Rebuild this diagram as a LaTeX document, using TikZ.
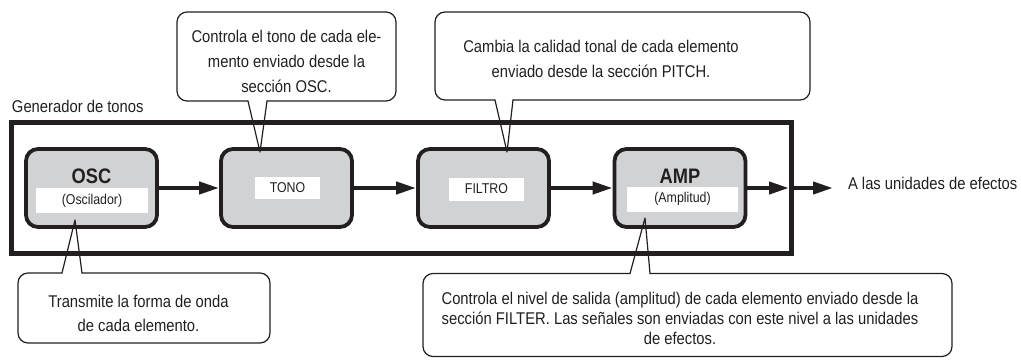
\documentclass[tikz,border=0pt]{standalone}
\usepackage{fontspec}
\setmainfont{Liberation Sans}[FakeStretch=0.87]
\usetikzlibrary{arrows.meta}
\definecolor{ink}{HTML}{231F20}
\definecolor{boxgray}{HTML}{D1D2D4}
\newcommand{\ctxt}[2]{\fontsize{17}{#1}\selectfont\begin{tabular}{@{}c@{}}#2\end{tabular}}
\begin{document}
\begin{tikzpicture}[x=1pt,y=-1pt,
  every node/.style={inner sep=0pt, outer sep=0pt, text=ink},
  block/.style={draw=ink, line width=3.8pt, fill=boxgray, rounded corners=12pt,
    minimum width=131pt, minimum height=78pt, outer sep=1.9pt},
  title/.style={font=\bfseries\fontsize{21}{25}\selectfont},
  sublabel/.style={fill=white, font=\fontsize{14.2}{17}\selectfont},
  flow/.style={draw=ink, line width=4pt, -{Triangle[length=20pt,width=12pt]}},
  frame/.style={draw=ink, line width=5pt, minimum width=780pt, minimum height=131pt},
  cline/.style={draw=ink, line width=1.2pt, line cap=round, line join=round},
  plain/.style={font=\fontsize{17}{20}\selectfont}
]
\useasboundingbox (0,0) rectangle (1021,360);

% tone generator frame
\node[frame] (gen) at (401.5,188) {};
\node[plain, anchor=base west] (genlbl) at (12,112) {Generador de tonos};

% blocks
\node[block] (osc) at (91.5,188) {};
\node[block] (tono) at (286.5,188) {};
\node[block] (filtro) at (483.5,188) {};
\node[block] (amp) at (680,188) {};

\node[title] (osct) at (91.5,176) {OSC};
\node[sublabel, minimum width=112pt, minimum height=25pt] (oscs) at (92,200.5) {(Oscilador)};
\node[sublabel, minimum width=65pt, minimum height=22pt] (tonos) at (287.5,188) {TONO};
\node[sublabel, minimum width=75pt, minimum height=23pt] (filtros) at (486.5,189) {FILTRO};
\node[title] (ampt) at (680,176) {AMP};
\node[sublabel, minimum width=111pt, minimum height=25pt] (amps) at (682.5,199) {(Amplitud)};

% output text
\node[plain, anchor=base west] (out) at (848,189) {A las unidades de efectos};

% flow arrows
\draw[flow] (osc) -- (tono);
\draw[flow] (tono) -- (filtro);
\draw[flow] (filtro) -- (amp);
\draw[flow, shorten >=2.5pt] (amp.east) -- (gen.east);
\draw[flow, shorten >=15pt] (gen.east) -- (gen.east -| out.west);

% pointer tips
\coordinate (p1) at (260,152);
\coordinate (p2) at (507,152);
\coordinate (p3) at (75,220);
\coordinate (p4) at (645,218);

% callout 1
\node[minimum width=219pt, minimum height=89pt] (c1) at (286.5,56.5) {};
\node (c1t) at (286.5,62.5) {\ctxt{25}{Controla el tono de cada ele-\\mento enviado desde la\\sección OSC.}};
\draw[cline, rounded corners=10pt] ([xshift=-19.5pt]c1.south) -- (c1.south east) -- (c1.north east) -- (c1.north west) -- (c1.south west) -- ([xshift=-38.5pt]c1.south);
\draw[cline] ([xshift=-38.5pt]c1.south) -- (p1) -- ([xshift=-19.5pt]c1.south);

% callout 2
\node[minimum width=375pt, minimum height=88pt] (c2) at (622.5,56) {};
\node (c2t) at (601,60) {\ctxt{25}{Cambia la calidad tonal de cada elemento\\enviado desde la sección PITCH.}};
\draw[cline, rounded corners=10pt] ([xshift=-109.5pt]c2.south) -- (c2.south east) -- (c2.north east) -- (c2.north west) -- (c2.south west) -- ([xshift=-127.5pt]c2.south);
\draw[cline] ([xshift=-127.5pt]c2.south) -- (p2) -- ([xshift=-109.5pt]c2.south);

% callout 3
\node[minimum width=252pt, minimum height=70pt] (c3) at (144,308) {};
\node (c3t) at (138.5,314.5) {\ctxt{24}{Transmite la forma de onda\\de cada elemento.}};
\draw[cline, rounded corners=10pt] ([xshift=-62pt]c3.north) -- (c3.north east) -- (c3.south east) -- (c3.south west) -- (c3.north west) -- ([xshift=-82pt]c3.north);
\draw[cline] ([xshift=-82pt]c3.north) -- (p3) -- ([xshift=-62pt]c3.north);

% callout 4
\node[minimum width=529pt, minimum height=83pt] (c4) at (687.5,315) {};
\node (c4t) at (680,320.5) {\ctxt{20}{Controla el nivel de salida (amplitud) de cada elemento enviado desde la\\sección FILTER. Las señales son enviadas con este nivel a las unidades\\de efectos.}};
\draw[cline, rounded corners=10pt] ([xshift=-37.5pt]c4.north) -- (c4.north east) -- (c4.south east) -- (c4.south west) -- (c4.north west) -- ([xshift=-57.5pt]c4.north);
\draw[cline] ([xshift=-57.5pt]c4.north) -- (p4) -- ([xshift=-37.5pt]c4.north);
\end{tikzpicture}
\end{document}
